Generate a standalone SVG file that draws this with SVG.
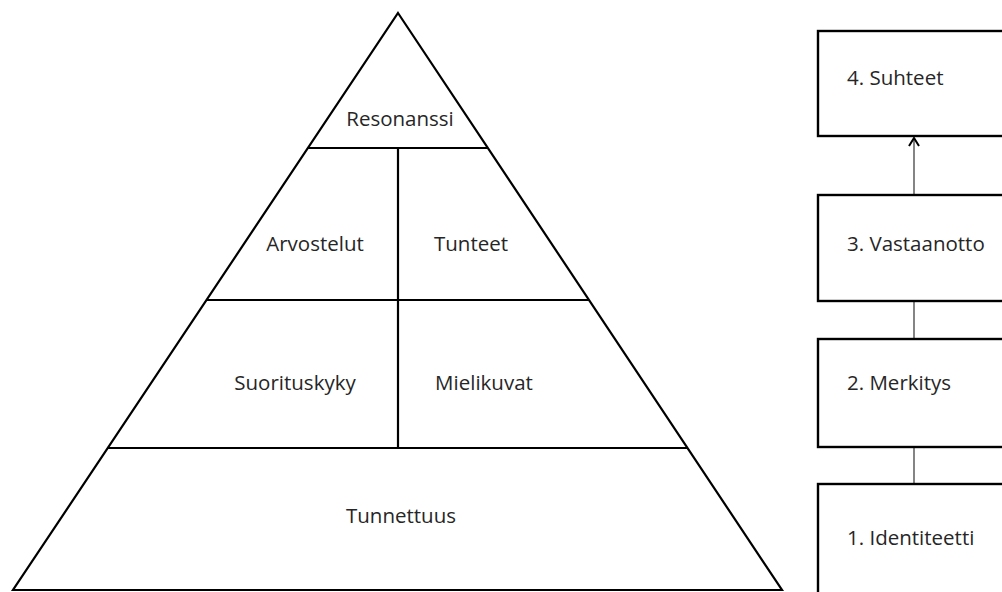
<svg xmlns="http://www.w3.org/2000/svg" width="1002" height="592" viewBox="0 0 1002 592">
  <defs>
    <style>
      .edge { fill: none; stroke: #000; stroke-width: 2.2; }
      .box { fill: #fff; stroke: #000; stroke-width: 2.4; }
      .link { fill: none; stroke: #333; stroke-width: 1.2; }
      .lbl { font-family: "Open Sans", "Liberation Sans", sans-serif; font-size: 20.5px; fill: #262626; }
      .mid { text-anchor: middle; }
    </style>
    <marker id="chev" viewBox="0 0 10 12" refX="9" refY="6" markerWidth="10" markerHeight="12" markerUnits="userSpaceOnUse" orient="auto">
      <path d="M1 1 L9 6 L1 11" fill="none" stroke="#000" stroke-width="2"/>
    </marker>
  </defs>
  <rect width="1002" height="592" fill="#fff"/>

  <!-- pyramid outline and tier dividers -->
  <g id="pyramid">
    <polygon class="edge" points="398,13 782,590 13,590" stroke-linejoin="miter"/>
    <line class="edge" x1="308" y1="148" x2="488" y2="148"/>
    <line class="edge" x1="206" y1="300" x2="589" y2="300"/>
    <line class="edge" x1="108" y1="448" x2="688" y2="448"/>
    <line class="edge" x1="398" y1="148" x2="398" y2="448"/>
  </g>
  <g id="resonanssi"><text class="lbl mid" x="400" y="126">Resonanssi</text></g>
  <g id="arvostelut"><text class="lbl mid" x="315" y="251">Arvostelut</text></g>
  <g id="tunteet"><text class="lbl mid" x="471" y="251">Tunteet</text></g>
  <g id="suorituskyky"><text class="lbl mid" x="295" y="390">Suorituskyky</text></g>
  <g id="mielikuvat"><text class="lbl mid" x="484" y="390">Mielikuvat</text></g>
  <g id="tunnettuus"><text class="lbl mid" x="401" y="523">Tunnettuus</text></g>

  <!-- connectors between the stages -->
  <g id="connectors">
    <line class="link" x1="914" y1="195" x2="914" y2="138" marker-end="url(#chev)"/>
    <line class="link" x1="914" y1="301" x2="914" y2="339"/>
    <line class="link" x1="914" y1="447" x2="914" y2="484"/>
  </g>

  <!-- stage boxes -->
  <g id="stage4">
    <rect class="box" x="818" y="31" width="200" height="105"/>
    <text class="lbl" x="847" y="85">4. Suhteet</text>
  </g>
  <g id="stage3">
    <rect class="box" x="818" y="195" width="200" height="106"/>
    <text class="lbl" x="847" y="251">3. Vastaanotto</text>
  </g>
  <g id="stage2">
    <rect class="box" x="818" y="339" width="200" height="108"/>
    <text class="lbl" x="847" y="390">2. Merkitys</text>
  </g>
  <g id="stage1">
    <rect class="box" x="818" y="484" width="200" height="120"/>
    <text class="lbl" x="847" y="545">1. Identiteetti</text>
  </g>
</svg>
